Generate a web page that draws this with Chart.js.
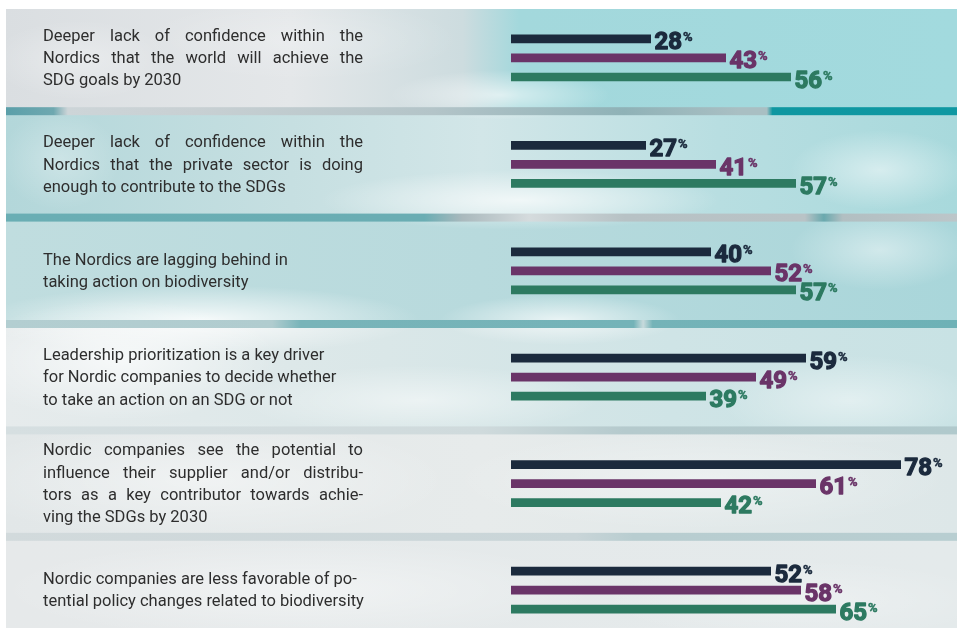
<!DOCTYPE html>
<html><head><meta charset="utf-8">
<script src="https://cdn.jsdelivr.net/npm/chart.js@4.4.1/dist/chart.umd.min.js"></script>
<style>html,body{margin:0;padding:0;background:#fff;overflow:hidden}#wrap{width:957px;height:628px;position:relative}</style>
</head><body><div id="wrap"><canvas id="c" width="957" height="628"></canvas></div>
<script>
const categories = [
 ["Deeper lack of confidence within the","Nordics that the world will achieve the","SDG goals by 2030"],
 ["Deeper lack of confidence within the","Nordics that the private sector is doing","enough to contribute to the SDGs"],
 ["The Nordics are lagging behind in","taking action on biodiversity"],
 ["Leadership prioritization is a key driver","for Nordic companies to decide whether","to take an action on an SDG or not"],
 ["Nordic companies see the potential to","influence their supplier and/or distribu-","tors as a key contributor towards achie-","ving the SDGs by 2030"],
 ["Nordic companies are less favorable of po-","tential policy changes related to biodiversity"]
];
const justified = [true, true, false, false, true, false];
const series1 = [28, 27, 40, 59, 78, 52];
const series2 = [43, 41, 52, 49, 61, 58];
const series3 = [56, 57, 57, 39, 42, 65];
const seriesColors = ['#1b2a3d', '#6a3468', '#2d7a61'];

const toPts = arr => arr.map((v, i) => ({x: v, y: i}));

const bgPlugin = {
  id: 'bg',
  beforeDraw(chart) {
    const ctx = chart.ctx, ys = chart.scales.y;
    const X0 = 6, Y0 = 9, W = 957, H = 628;
    ctx.save();
    ctx.fillStyle = '#fff'; ctx.fillRect(0, 0, W, H);
    ctx.beginPath(); ctx.rect(X0, Y0, W - X0, H - Y0); ctx.clip();
    const panelStops = [
      [[0,'#dadee1'],[0.3,'#e4e7e9'],[0.48,'#cddcdf'],[0.54,'#a3d8dc'],[1,'#a2dade']],
      [[0,'#b3d7da'],[0.3,'#c6dfe1'],[0.5,'#d2e6e8'],[0.75,'#b8dee1'],[1,'#a8d9dc']],
      [[0,'#c0dddf'],[0.5,'#b8dadd'],[1,'#a9d6da']],
      [[0,'#e6ebec'],[0.4,'#dae7e8'],[0.7,'#cfe4e6'],[1,'#c8e2e4']],
      [[0,'#e2e7e8'],[0.5,'#e7ebeb'],[1,'#dde7e8']],
      [[0,'#e6e9ea'],[1,'#e4eaeb']]
    ];
    const n = panelStops.length;
    for (let i = 0; i < n; i++) {
      const top = i === 0 ? Y0 : ys.getPixelForValue(i - 0.5);
      const bot = i === n - 1 ? H : ys.getPixelForValue(i + 0.5);
      const g = ctx.createLinearGradient(X0, 0, W, 0);
      panelStops[i].forEach(s => g.addColorStop(s[0], s[1]));
      ctx.fillStyle = g; ctx.fillRect(X0, top, W - X0, bot - top);
    }
    const clouds = [
      [500,95,110,25,0.6],[80,60,90,40,0.35],[300,40,160,40,0.25],
      [520,200,200,30,0.7],[880,170,90,40,0.5],[60,160,60,50,0.3],
      [200,320,220,35,0.85],[560,320,120,25,0.7],[880,250,90,40,0.45],
      [120,360,160,60,0.7],[420,400,180,35,0.5],[850,400,130,45,0.45],
      [200,480,250,60,0.45],[700,480,250,50,0.35],[300,590,300,50,0.45],[800,600,200,40,0.3]
    ];
    clouds.forEach(c => {
      ctx.save();
      ctx.translate(c[0], c[1]); ctx.scale(1, c[3] / c[2]);
      const r = ctx.createRadialGradient(0, 0, 0, 0, 0, c[2]);
      r.addColorStop(0, 'rgba(255,255,255,' + c[4] + ')');
      r.addColorStop(1, 'rgba(255,255,255,0)');
      ctx.fillStyle = r; ctx.beginPath(); ctx.arc(0, 0, c[2], 0, Math.PI * 2); ctx.fill();
      ctx.restore();
    });
    const bandStops = [
      [[0,'#5b9fa9'],[0.05,'#6fa8b0'],[0.065,'#cdd5d8'],[0.2,'#c8d0d3'],[0.45,'#b3c4c8'],[0.65,'#8fb2b7'],[0.77,'#a9bfc3'],[0.8,'#a9bfc3'],[0.806,'#0f97a1'],[1,'#0f98a2']],
      [[0,'#6aaeb4'],[0.44,'#6aadb3'],[0.48,'#aab9bd'],[0.55,'#d5dbdd'],[0.65,'#b7c2c5'],[0.84,'#b9c3c6'],[0.86,'#6aa9ae'],[0.88,'#b2bfc2'],[1,'#bcc6c9']],
      [[0,'#b3ced1'],[0.28,'#b0cccf'],[0.31,'#78b4b9'],[0.66,'#74b3b8'],[0.67,'#c7dadc'],[0.68,'#74b3b8'],[1,'#6db1b6']],
      [[0,'#d6dfe1'],[0.5,'#cfdadc'],[0.65,'#b5cacd'],[1,'#b0c9cc']],
      [[0,'#d2dadc'],[0.6,'#c9d5d8'],[0.66,'#b8cdd0'],[1,'#b8ced1']]
    ];
    for (let i = 0; i < n - 1; i++) {
      const yc = ys.getPixelForValue(i + 0.5);
      const g = ctx.createLinearGradient(X0, 0, W, 0);
      bandStops[i].forEach(s => g.addColorStop(s[0], s[1]));
      ctx.fillStyle = g; ctx.fillRect(X0, yc - 4, W - X0, 8);
    }
    ctx.restore();
  },
  afterDraw(chart) {
    const ctx = chart.ctx, ys = chart.scales.y;
    ctx.save();
    ctx.font = '16.5px Roboto';
    ctx.fillStyle = '#2e2e2e';
    ctx.textBaseline = 'middle';
    ctx.textAlign = 'left';
    const x = 43, width = 320, lh = 22.3;
    categories.forEach((lines, i) => {
      const yc = ys.getPixelForValue(i);
      lines.forEach((t, k) => {
        const y = yc + (k - (lines.length - 1) / 2) * lh + 1;
        if (justified[i] && k < lines.length - 1) {
          const words = t.split(' ');
          const total = words.reduce((s, w) => s + ctx.measureText(w).width, 0);
          const gap = (width - total) / (words.length - 1);
          let cx = x;
          words.forEach(w => { ctx.fillText(w, cx, y); cx += ctx.measureText(w).width + gap; });
        } else {
          ctx.fillText(t, x, y);
        }
      });
    });
    ctx.restore();
  },
  afterDatasetsDraw(chart) {
    const ctx = chart.ctx;
    ctx.save();
    chart.data.datasets.forEach((ds, di) => {
      const meta = chart.getDatasetMeta(di);
      meta.data.forEach((el, j) => {
        const v = ds.data[j].x;
        ctx.fillStyle = seriesColors[di];
        ctx.strokeStyle = seriesColors[di];
        ctx.lineJoin = 'round';
        ctx.textAlign = 'left';
        ctx.textBaseline = 'alphabetic';
        ctx.font = 'bold 24px Roboto';
        const sx = el.x + 3.5;
        const s = String(v);
        ctx.lineWidth = 1.3;
        ctx.fillText(s, sx, el.y + 10.5);
        ctx.strokeText(s, sx, el.y + 10.5);
        const w = ctx.measureText(s).width;
        ctx.font = 'bold 13px Roboto';
        ctx.lineWidth = 0.5;
        ctx.fillText('%', sx + w + 1, el.y + 2.5);
        ctx.strokeText('%', sx + w + 1, el.y + 2.5);
      });
    });
    ctx.restore();
  }
};

new Chart(document.getElementById('c'), {
  type: 'bar',
  data: {
    datasets: [
      {label: 'Series 1', data: toPts(series1), backgroundColor: seriesColors[0]},
      {label: 'Series 2', data: toPts(series2), backgroundColor: seriesColors[1]},
      {label: 'Series 3', data: toPts(series3), backgroundColor: seriesColors[2]}
    ]
  },
  options: {
    indexAxis: 'y',
    responsive: false,
    animation: false,
    devicePixelRatio: 1,
    layout: {padding: {left: 511, right: 0, top: 0, bottom: 0}},
    datasets: {bar: {categoryPercentage: 0.536, barPercentage: 0.46}},
    plugins: {legend: {display: false}, tooltip: {enabled: false}},
    scales: {
      x: {type: 'linear', min: 0, max: 89.2, display: false, offset: false},
      y: {type: 'linear', reverse: true, min: -0.545, max: 5.357, display: false, offset: false,
          afterBuildTicks: s => { s.ticks = categories.map((c, i) => ({value: i})); }}
    }
  },
  plugins: [bgPlugin]
});
</script>
</body></html>
